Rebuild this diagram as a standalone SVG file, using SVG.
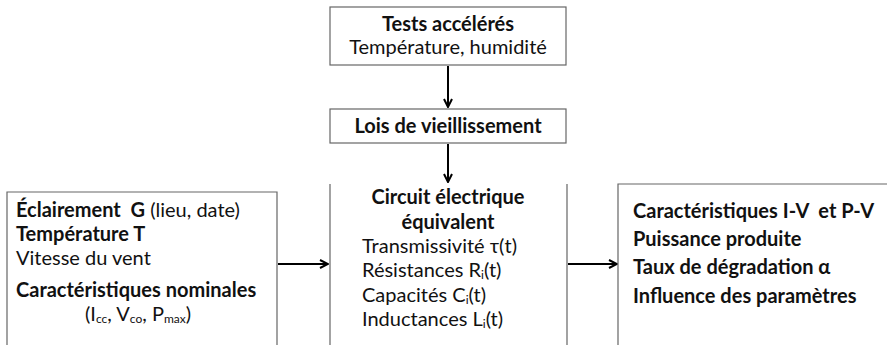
<svg xmlns="http://www.w3.org/2000/svg" width="887" height="345" viewBox="0 0 887 345">
<style>
.box{fill:#fff;stroke:#666;stroke-width:1.2}
.t{font-family:Lato,"Liberation Sans",sans-serif;font-size:20px;fill:#111}
.b{font-weight:bold}
.c{text-anchor:middle}
.sub{font-size:12px}
.ln{stroke:#000;stroke-width:2;fill:none}
</style>
<defs>
<marker id="ah" viewBox="0 0 10 10" refX="9" refY="5" markerWidth="5" markerHeight="5" orient="auto" markerUnits="strokeWidth">
<path d="M1,1 L9,5 L1,9" fill="none" stroke="#000" stroke-width="2"/>
</marker>
</defs>
<rect width="887" height="345" fill="#fff"/>
<g id="connectors">
<line class="ln" x1="448" y1="66" x2="448" y2="107" marker-end="url(#ah)"/>
<line class="ln" x1="448" y1="144" x2="448" y2="182" marker-end="url(#ah)"/>
<line class="ln" x1="278" y1="264" x2="328" y2="264" marker-end="url(#ah)"/>
<line class="ln" x1="568" y1="264" x2="617" y2="264" marker-end="url(#ah)"/>
</g>
<g id="tests">
<rect class="box" x="330" y="7" width="236" height="58"/>
<text class="t b c" x="448" y="31">Tests accélérés</text>
<text class="t c" x="448" y="54">Température, humidité</text>
</g>
<g id="lois">
<rect class="box" x="330" y="109" width="236" height="34"/>
<text class="t b c" x="448" y="133">Lois de vieillissement</text>
</g>
<g id="entrees">
<path class="box" d="M7,350 V192 H277 V350"/>
<text class="t" x="16" y="217" xml:space="preserve"><tspan class="b">Éclairement  G</tspan> (lieu, date)</text>
<text class="t b" x="16" y="241">Température T</text>
<text class="t" x="16" y="265">Vitesse du vent</text>
<text class="t b" x="16" y="297">Caractéristiques nominales</text>
<text class="t" x="85" y="321">(I<tspan class="sub" dy="2">cc</tspan><tspan dy="-2">, V</tspan><tspan class="sub" dy="2">co</tspan><tspan dy="-2">, P</tspan><tspan class="sub" dy="2">max</tspan><tspan dy="-2">)</tspan></text>
</g>
<g id="circuit">
<path class="box" d="M330,184 V350 M567,184 V350"/>
<text class="t b c" x="448" y="204">Circuit électrique</text>
<text class="t b c" x="448" y="229">équivalent</text>
<text class="t" x="362" y="252.5">Transmissivité τ(t)</text>
<text class="t" x="362" y="277">Résistances R<tspan class="sub" dy="2">i</tspan><tspan dy="-2">(t)</tspan></text>
<text class="t" x="362" y="301.5">Capacités C<tspan class="sub" dy="2">i</tspan><tspan dy="-2">(t)</tspan></text>
<text class="t" x="362" y="326">Inductances L<tspan class="sub" dy="2">i</tspan><tspan dy="-2">(t)</tspan></text>
</g>
<g id="sorties">
<path class="box" d="M618,350 V184 H890"/>
<text class="t b" x="633" y="218" xml:space="preserve">Caractéristiques I-V  et P-V</text>
<text class="t b" x="633" y="246">Puissance produite</text>
<text class="t b" x="633" y="274">Taux de dégradation α</text>
<text class="t b" x="633" y="303">Influence des paramètres</text>
</g>
</svg>
